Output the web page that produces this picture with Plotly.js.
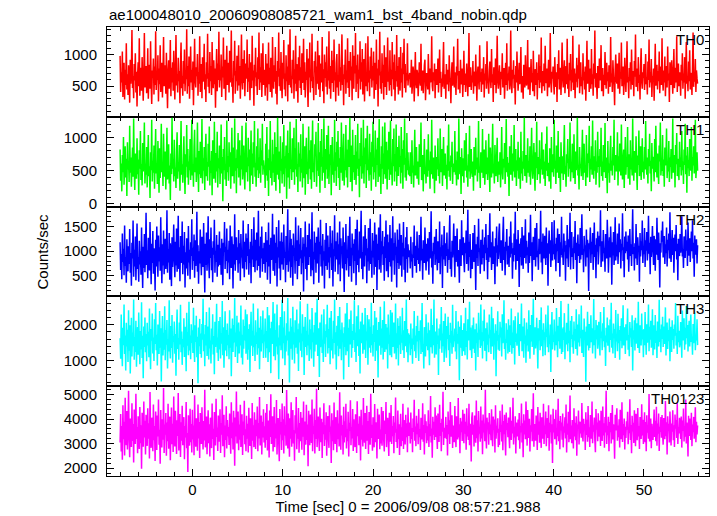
<!DOCTYPE html>
<html>
<head>
<meta charset="utf-8">
<script src="https://cdn.plot.ly/plotly-3.0.1.min.js"></script>
<style>html,body{margin:0;padding:0;background:#fff;}#chart{width:717px;height:516px;}</style>
</head>
<body>
<div id="chart"></div>
<script>
// Light-curve bins: start time and bin width (s)
const tStart = -8;
const binSize = 0.0625;

const TH0 = [
980,410,720,560,1050,330,640,870,290,760,520,1180,450,690,360,830,
610,240,920,540,780,1390,470,660,310,850,590,1020,400,730,180,670,
880,500,1260,350,620,790,430,960,560,270,710,1340,480,640,820,390,
550,1100,300,690,840,460,1210,580,220,750,630,940,370,810,520,1370,
440,700,600,990,260,780,530,1150,410,680,870,320,740,1280,500,610,
830,380,1030,570,150,720,910,460,650,1230,340,790,560,880,430,1060,
620,290,770,1310,510,690,400,950,580,740,230,860,1190,470,660,350,
900,540,1080,420,710,610,1400,380,820,500,970,300,680,1130,560,760,
440,890,200,730,1250,590,480,800,660,1010,350,720,540,1290,410,630,
850,310,960,570,760,1170,450,690,250,880,620,1330,490,710,390,1040,
580,820,360,1200,640,470,910,530,780,160,700,1090,420,860,600,1360,
480,750,590,1000,330,810,640,1270,460,680,920,280,770,1140,520,650,
870,400,1060,560,730,1380,490,620,240,900,670,1220,380,740,580,980,
430,690,1150,510,820,300,760,1320,600,450,930,550,1070,340,710,860,
620,1240,410,790,570,1010,280,680,880,470,1300,590,750,190,840,640,
1110,500,720,360,960,610,1350,440,800,560,1020,330,700,1180,520,760,
720,350,1010,480,860,270,640,1190,530,790,410,950,600,320,1280,690,
460,830,570,1120,380,740,210,900,650,1350,500,780,430,1040,560,310,
870,620,1230,450,700,340,990,580,810,260,1160,520,730,1400,480,660,
390,920,610,1070,300,770,540,1300,420,850,680,240,960,590,1140,470,
800,360,1020,550,690,1250,440,880,320,730,600,1090,510,170,940,640,
1190,400,760,580,1330,470,650,280,900,720,1050,360,810,540,1220,610,
450,990,330,700,860,560,1280,420,770,230,1000,630,880,490,1130,370,
740,590,1370,460,820,300,680,1060,550,910,410,1240,590,720,260,870,
1010,480,640,350,1170,570,800,430,950,1320,520,690,200,840,610,1080,
380,750,560,1260,470,900,330,720,1040,590,810,280,1150,640,460,980,
700,1340,410,830,540,1000,310,760,620,1210,450,880,570,1090,370,660,
930,260,790,1180,500,680,420,1290,560,750,340,970,620,1110,480,820,
590,1050,300,710,870,440,1240,530,780,180,920,670,1360,460,730,380,
1020,550,840,290,1150,620,490,960,360,800,1270,570,690,430,1070,520,
760,340,1200,610,880,450,1000,270,740,580,1310,490,820,370,960,650,
430,1120,560,780,320,1030,690,1250,470,850,400,710,590,1180,510,680,
650,710,480,590,920,380,540,810,700,260,630,1040,560,470,760,690,
340,580,880,620,510,1170,430,690,750,390,600,830,920,280,540,710,
600,450,1010,660,370,780,560,640,1290,500,420,720,590,860,310,680,
770,520,610,940,400,650,1080,550,730,330,620,490,810,1200,460,570,
690,300,850,610,530,760,420,990,640,570,230,700,880,510,640,1130,
480,720,590,360,810,670,1250,450,560,740,390,920,620,530,780,330,
640,1060,520,700,410,580,860,610,340,750,1340,490,620,800,440,670,
560,900,380,650,730,500,1000,590,270,690,810,620,450,1150,570,720,
410,780,640,530,960,320,700,590,850,460,1210,610,540,380,740,890,
620,470,1090,560,690,250,800,640,520,940,390,710,1300,580,460,650,
830,540,360,730,610,1020,480,660,790,300,600,870,520,1180,430,700,
590,810,450,640,1380,520,390,760,620,910,470,680,210,820,560,1050,
700,430,610,870,530,750,1120,400,660,590,300,840,720,480,990,620,
510,680,1230,450,570,800,360,640,930,560,710,420,1060,600,340,770,
650,520,880,290,710,600,1000,470,820,560,1270,390,630,740,500,860,
430,1140,610,550,780,340,690,920,480,640,1340,570,400,730,620,810,
550,370,960,660,490,720,250,850,610,1070,450,580,790,360,700,1190,
640,480,730,910,390,600,820,530,1250,460,690,330,870,590,1010,420,
760,560,1300,440,650,780,310,700,570,950,480,830,620,1160,390,610,
880,500,640,370,1020,590,730,450,810,270,680,1220,540,650,920,410,
600,780,460,1090,530,690,350,860,620,1380,480,710,560,300,820,650,
470,940,590,720,1150,420,610,790,340,680,520,1040,640,460,870,580,
720,380,830,610,490,1280,560,700,410,910,650,530,200,760,1000,590,
540,860,460,690,1030,380,720,620,1190,500,640,810,360,570,950,680,
410,720,1210,560,640,310,790,580,880,450,1080,620,520,740,340,900,
650,1320,490,600,780,420,960,550,680,290,810,1100,570,460,720,630,
850,440,700,1010,530,640,370,890,600,1240,480,720,560,930,330,660,
590,780,270,690,1170,510,620,840,450,740,580,1050,390,680,810,520,
1260,600,430,750,560,970,340,660,820,480,1130,590,700,250,880,640,
520,910,660,380,740,1090,470,610,790,560,1290,410,650,860,500,720,
630,350,840,590,1020,460,700,560,960,300,770,1200,540,620,420,890,
580,1070,450,710,640,360,820,1350,490,680,570,930,410,750,620,540
];
const TH1 = [
820,350,610,190,740,480,1010,290,560,870,400,680,120,930,520,640,
330,1180,470,700,260,590,850,410,1290,540,210,760,620,380,990,450,
670,140,810,530,1100,360,600,280,920,490,730,1230,310,580,440,860,
250,690,1040,420,570,90,780,510,1270,340,650,470,880,230,720,1130,
460,610,300,950,530,170,840,390,700,1210,480,620,270,1060,560,410,
790,220,640,1150,370,500,900,310,580,60,760,450,1300,530,680,340,
970,420,550,240,810,1080,380,630,490,890,200,720,1250,440,600,320,
680,1020,470,150,750,560,1190,400,830,290,640,510,980,360,710,1270,
430,590,260,870,1120,480,700,330,610,1230,520,180,800,450,940,390,
570,1280,310,690,500,860,210,740,1060,420,630,350,910,560,1170,280,
650,470,800,130,960,540,380,1240,600,320,770,490,1090,250,690,540,
880,300,620,1200,460,710,40,830,510,1010,370,590,270,1260,480,720,
350,930,560,780,230,660,1150,420,600,850,310,1290,500,690,160,820,
540,1070,400,640,960,280,730,520,1180,370,610,880,450,220,790,1230,
480,700,340,1000,570,820,190,650,1110,430,760,300,930,550,1250,410,
620,260,870,510,1140,390,700,460,990,320,810,580,1210,440,660,530,
580,240,910,430,1160,350,690,120,820,510,1250,390,640,280,970,470,
750,330,1080,560,200,860,440,1300,600,370,790,160,1020,500,680,310,
930,450,1190,260,720,540,880,80,650,1110,400,770,230,1240,530,620,
360,990,480,710,1150,290,840,520,1280,410,600,180,930,560,760,340,
1050,470,680,250,1210,590,390,870,140,740,1000,450,620,300,1170,530,
810,370,960,230,690,1260,480,580,330,900,720,1090,260,640,500,1220,
420,780,170,950,560,1130,350,700,470,1290,610,240,830,520,1040,380,
670,1180,300,750,590,890,130,710,1010,440,620,320,1270,500,780,270,
940,560,1100,390,690,210,860,470,1230,600,350,750,1060,280,640,510,
1190,400,820,250,970,560,700,1300,330,610,880,190,1120,480,740,360,
620,1040,290,790,530,1210,420,680,100,920,570,1150,380,720,460,1270,
310,850,600,990,240,700,1180,510,630,350,1060,440,780,200,940,560,
1240,370,690,480,1110,260,820,590,1000,330,730,1280,410,600,150,870,
530,1170,300,760,450,1230,380,650,940,220,810,520,1090,360,700,1260,
440,620,280,980,570,1140,340,750,490,1200,270,680,860,420,1030,560,
720,310,1160,470,830,230,960,590,1290,400,690,350,1070,510,780,440,
540,420,780,610,300,960,470,580,250,700,1120,430,520,860,380,640,
470,290,900,560,680,1230,360,510,740,190,620,980,450,550,310,820,
600,410,1050,500,660,230,790,450,1270,540,380,700,600,160,880,470,
350,710,520,990,420,600,310,1140,560,480,830,270,650,1010,430,560,
760,380,590,220,880,500,1200,410,640,350,730,560,940,300,610,480,
530,1100,440,660,280,790,520,370,1290,600,450,710,150,840,560,420,
690,320,960,500,610,1070,400,580,260,750,490,1180,380,620,830,470,
410,640,200,860,550,430,1000,520,700,340,610,1250,470,560,240,780,
580,470,1130,390,650,820,290,540,960,450,700,360,610,1060,500,180,
850,530,400,740,1210,460,590,310,890,570,420,700,1000,330,640,520,
440,780,250,620,1160,500,370,680,550,920,300,590,1280,480,710,410,
620,120,870,530,440,1040,610,350,760,490,1190,400,570,830,270,660,
500,940,380,700,580,230,1090,460,640,350,800,530,1300,420,610,740,
320,560,990,470,650,410,870,290,720,1150,540,380,610,920,470,200,
780,540,1240,360,600,710,450,960,310,680,520,1080,440,590,820,380,
640,270,910,500,1170,420,620,560,340,840,690,230,1010,480,750,560,
410,1270,530,650,300,880,470,600,1100,390,710,540,180,930,580,460,
720,360,820,1190,450,570,260,750,620,980,410,670,530,1230,340,600,
480,910,560,390,1050,620,300,790,510,680,1300,430,590,220,860,540,
600,420,740,1120,360,650,910,470,560,270,1040,580,400,760,620,1180,
330,680,520,870,440,1260,590,380,720,500,960,290,640,470,1090,560,
720,250,830,560,1150,420,640,350,890,600,480,1220,390,700,540,160,
950,470,610,320,780,1030,500,650,430,860,580,1270,360,620,740,490,
560,1080,280,720,490,910,610,430,1200,530,370,680,820,240,640,1010,
440,690,560,1160,380,610,750,290,960,520,640,430,1290,580,350,800,
620,470,1020,540,210,730,590,1110,420,680,870,360,560,990,480,640,
380,860,520,1250,600,440,700,310,830,570,1060,460,650,190,920,530,
710,560,340,980,480,1180,620,400,760,550,300,880,640,1230,430,590,
500,1040,420,670,260,850,580,710,1140,390,620,490,950,330,700,560,
830,380,610,1290,470,560,740,250,890,600,1070,420,680,520,360,940,
560,700,430,1100,510,640,300,820,590,1210,450,730,170,860,540,660,
420,980,600,500,1160,350,710,580,870,460,630,1270,390,560,780,500
];
const TH2 = [
1180,620,940,430,1360,780,1050,510,1520,700,880,360,1240,820,590,1100,
740,1450,560,960,300,1170,850,1620,480,1030,690,1300,410,920,1560,640,
880,380,1210,730,1000,520,1480,810,250,1090,660,1350,570,970,1780,720,
1020,450,1270,830,610,1590,940,330,1150,760,1410,540,1060,870,200,1230,
690,1500,920,480,1320,790,1080,600,1690,870,350,1140,710,1420,530,990,
1250,640,910,1830,560,1040,770,1370,420,1160,830,290,1280,680,1010,1540,
820,470,1190,710,1460,580,950,1720,640,1080,390,1310,760,890,1600,530,
1110,730,1390,260,980,650,1260,840,500,1510,770,1030,430,1180,900,1650,
620,1070,800,1340,460,1220,700,960,1800,580,1120,340,1000,750,1440,880,
510,1290,940,680,1570,820,160,1150,720,1380,600,1020,1710,790,450,1240,
860,1480,610,1070,370,1200,930,1640,560,1010,780,1330,480,1130,690,940,
1400,720,1060,520,1250,850,310,1170,980,1590,640,1090,800,1460,550,1030,
770,1210,430,1520,890,660,1300,1020,240,1140,730,1750,600,980,1280,820,
1080,560,1430,750,1160,400,1350,870,1010,650,1620,910,470,1190,780,1360,
630,1260,900,1550,520,1040,760,1190,350,1450,830,1110,680,1690,940,570,
1230,810,1380,610,970,1820,700,1100,460,1290,850,1500,580,1060,740,1170,
1050,560,1390,780,1220,420,960,1580,690,1130,340,1270,820,1010,1760,600,
940,1340,500,1170,760,1490,280,1080,870,1630,650,1200,410,1030,1380,730,
1190,620,1540,860,990,370,1310,720,1110,1850,580,1000,790,1430,460,1250,
680,1120,300,1360,910,1060,540,1690,800,1220,430,970,1520,700,1140,850,
1470,530,1020,760,1280,180,1150,890,1600,640,1080,410,1330,970,720,1560,
880,1240,490,1070,1790,610,990,330,1400,830,1170,560,1290,750,1050,1480,
360,1190,940,1640,690,1110,500,1350,810,1000,240,1230,700,1570,930,620,
1320,770,1080,450,1510,870,1160,620,1420,280,1040,900,1730,580,1200,830,
1010,1380,530,1140,730,1600,390,1260,960,1100,650,1480,820,170,1180,740,
1550,610,1030,860,1310,480,1210,1700,700,1070,380,1360,920,1150,550,1240,
800,1450,310,1090,1640,720,1020,570,1400,850,1190,1820,640,980,430,1300,
1130,690,1530,910,1250,350,1060,790,1470,600,1120,1660,740,1010,460,1370,
870,1210,520,1580,990,680,1340,210,1150,820,1480,630,1070,1750,560,1200,
940,1410,720,1100,400,1290,860,1620,590,1050,1340,470,1180,780,1530,690,
1260,380,1020,1710,810,1160,520,1380,930,1090,260,1440,760,1230,640,1560,
1000,710,1330,480,1170,890,1590,620,1060,370,1280,840,1490,560,1140,910,
880,1020,650,1290,790,930,460,1180,860,1520,700,980,1110,560,1400,820,
1060,740,1330,590,950,1700,810,1050,420,1220,890,760,1480,930,610,1150,
790,1260,980,520,1390,850,1100,1810,670,1000,340,1170,940,1290,720,1040,
1450,880,610,1200,1000,760,1600,530,1080,900,1340,250,1120,830,1510,970,
700,1160,900,1380,560,1040,820,1270,1730,640,990,480,1210,870,1100,1560,
920,470,1310,780,1090,1460,690,1020,860,360,1240,1010,700,1630,920,1150,
1280,810,570,1170,960,1420,740,1080,1840,600,1190,880,1350,450,1030,910,
640,1370,1050,780,1530,930,210,1140,860,1290,700,1660,990,1060,540,1230,
1000,730,1440,860,1130,590,1280,960,1550,820,1070,430,1330,780,1200,1770,
870,1180,620,1010,1400,740,1100,880,330,1260,970,1500,690,1120,840,1380,
1560,940,760,1220,1040,600,1340,1700,820,1090,510,1190,1010,1450,730,960,
1110,680,1300,870,1600,950,1170,440,1060,790,1360,920,1800,620,1240,1020,
800,1430,990,270,1150,880,1260,710,1490,1030,640,1320,860,1110,1650,750,
1210,920,1080,560,1380,760,1020,1740,900,1180,390,1050,1290,820,960,1470,
690,1130,1570,880,1010,620,1250,940,1100,1820,770,1190,530,1360,1000,850,
1310,1040,720,1480,860,1160,300,1070,1420,950,1220,680,1030,1590,810,1120,
940,1630,830,1150,590,1270,1000,1460,760,1090,1350,480,1180,920,1700,870,
1050,720,1360,990,1210,400,1120,850,1530,1010,680,1240,1080,1780,630,1150,
1390,880,1060,640,1290,960,1610,820,1170,350,1080,1340,900,1140,760,1470,
830,1200,1750,920,1040,570,1310,1000,1120,690,1440,870,1230,1050,190,1160,
1080,1480,760,1190,940,1370,620,1050,1580,880,1130,450,1260,990,1400,730,
970,1310,1100,1830,680,1010,1200,790,1430,960,1070,580,1350,1100,850,1640,
1210,560,1000,1280,870,1500,1060,320,1180,910,1390,720,1040,1690,810,1130,
890,1360,740,1110,1560,980,1240,650,1150,1020,1770,800,1080,470,1300,960,
1400,1000,1190,830,1320,580,1060,1450,900,1140,700,1230,1850,940,1080,610,
1160,850,1550,1030,720,1280,990,1110,380,1370,890,1200,1020,1620,760,1090,
940,1470,680,1220,1010,1390,810,1060,1720,950,1170,530,1290,880,1140,1510,
1030,720,1310,1090,600,1240,930,1680,1080,820,1380,1000,260,1160,970,1420,
1190,1600,870,1050,1310,740,1140,960,1480,690,1230,1020,1360,850,1790,1000,
780,1120,1430,920,1270,560,1080,1340,1000,1530,830,1150,410,1250,1060,900,
1350,970,1180,1710,890,1040,660,1300,1100,860,1440,1010,1220,700,1580,1070,
910,1260,780,1090,1400,1000,1630,850,1170,480,1320,930,1080,1240,750,1120
];
const TH3 = [
1620,1050,2280,1340,840,1910,1430,2560,1180,1700,720,2050,1390,1860,960,2400,
1270,1980,640,1530,2190,1110,1780,1400,2700,1020,1650,1240,2110,830,1570,1930,
1160,2340,1480,900,1820,1310,2620,1070,1690,510,1950,1380,2200,1230,1740,980,
2050,1420,1800,1090,2450,1330,760,1880,1550,2310,1200,1640,990,2150,1460,2600,
1290,1720,860,2000,1520,1180,2380,1360,1900,420,1610,2240,1140,1770,1300,2510,
1010,1850,1440,2130,780,1590,1250,2680,1470,1060,1960,1350,2270,940,1680,1520,
2090,1190,1740,580,1870,2420,1320,1630,1020,2060,1450,2550,1230,1810,880,1600,
1370,2180,1100,1940,1560,700,2330,1410,1790,1150,2640,1280,1700,1040,2010,1490,
1840,1210,2470,1350,960,1980,1520,2250,1090,1660,370,1920,1400,2160,1180,1750,
1080,2020,1580,2720,1260,1730,840,1990,1420,2350,1130,1620,1950,1030,2480,1340,
1560,920,1890,1450,2290,1170,1680,620,2080,1380,1800,2580,1220,1640,990,2100,
1310,2210,1060,1760,1470,2660,1150,1930,800,1590,2370,1280,1850,1120,2030,1430,
1710,1040,2400,1360,1890,560,1620,2170,1240,1990,1500,2740,1100,1780,1390,2250,
930,1670,2060,1200,1810,1420,2530,1080,1720,890,2140,1330,1960,1560,2420,1190,
1640,2290,1020,1880,1300,2010,680,1750,2360,1410,1830,1130,2590,1370,1700,990,
2120,1460,1790,1160,2450,1340,1910,760,1600,2230,1250,1860,1480,2390,1070,1720,
1530,2170,1080,1820,1340,2490,960,1690,2260,1230,1900,650,2080,1460,1770,2630,
1120,1580,2310,1010,1850,1390,2560,1170,1640,480,1980,1420,2210,1290,1730,2690,
1060,1920,1480,2370,870,1700,1250,2040,1560,2740,1140,1810,390,1660,2180,1330,
1940,1020,2500,1450,1780,920,2120,1360,1610,2420,1190,1870,710,2030,1500,2650,
1270,1750,1090,2290,1540,1940,600,1680,2210,1380,1830,1150,2580,1420,1720,990,
2140,1310,1870,1060,2460,1510,1780,830,1990,1250,2340,1440,1690,2720,1130,1620,
1900,540,2060,1370,1740,2280,1210,1580,960,2430,1470,1820,1100,2010,1650,2550,
1200,1880,1350,2190,900,1710,2380,1280,1600,1060,2110,1490,2700,1170,1790,750,
1970,1410,2240,1120,1680,2490,1330,1860,1010,2060,1540,1760,470,1930,1380,2310,
1150,1640,2600,1260,1910,820,2150,1450,1710,2390,1080,1820,1350,2020,1570,2680,
1240,1780,960,2230,1400,1690,2540,1130,1870,640,2090,1480,1750,2330,1190,1620,
2000,1300,2460,1070,1810,1560,2270,880,1700,2150,1360,1940,1220,2610,1430,1740,
1110,1980,1520,2380,990,1660,2200,1270,1850,530,2070,1410,1730,2500,1160,1890,
1360,2130,1030,1790,2650,1240,1580,2020,1310,1920,780,2280,1470,1700,1150,2410,
1630,1090,2340,1380,1820,2060,1200,1550,2590,1040,1760,1350,2180,860,1960,1440,
2230,1180,1710,1500,2470,1290,1840,1070,2100,1400,1650,2700,1230,1880,950,1760,
1480,1720,1150,2030,1320,1610,910,1890,1440,2380,1260,1700,1070,1960,1530,2250,
1350,990,1820,1570,2120,1180,1690,2600,1240,1460,780,1930,1620,1110,2290,1400,
1760,1290,2060,1520,870,1840,1370,2440,1650,1200,1990,1430,2700,1080,1580,1810,
1170,2170,1460,1700,600,1890,1330,2010,1560,2490,1220,1750,1400,2100,960,1640,
2310,1430,1080,1960,1600,2220,1290,1710,850,2050,1500,1830,1190,2550,1370,1680,
1540,1890,1250,2380,1040,1740,1470,2090,1630,450,1940,1360,2260,1520,1130,1850,
1260,2040,1590,1150,2470,1380,1820,1030,2150,1560,1710,2640,1290,1920,1450,1070,
1980,1330,2200,1620,1210,1870,720,2030,1490,1770,1100,2330,1580,1860,1350,2560,
1410,1790,1060,2110,1540,2420,1270,1690,1900,980,2060,1440,1720,1230,2280,1620,
1850,1180,2500,1390,1630,2180,1020,1760,1450,2010,560,1830,1550,2370,1300,1710,
1270,2080,1640,1920,1110,2290,1480,1750,2680,1320,1600,1020,2040,1490,1860,1200,
2150,1560,1240,1980,1430,2450,1190,1780,1350,2120,1660,890,2230,1520,1750,1410,
1690,2340,1370,1130,2020,1540,1830,2590,1260,1620,1950,1080,2180,1470,1700,940,
2060,1420,1870,1250,2400,1610,1050,1990,1530,2270,1380,1800,2720,1160,1670,1930,
1340,1610,2190,1470,780,1900,1560,2130,1290,1740,2480,1400,1860,1120,2040,1580,
1790,1150,2280,1660,1880,1370,2530,1230,1700,1460,2000,680,1820,2350,1310,1640,
1520,2140,1280,1810,1430,2460,1610,1090,1970,1540,2210,1330,1760,2660,1180,1890,
1240,1930,1570,2320,1040,1780,1450,2050,1690,1260,2580,1480,1830,950,2110,1600,
2240,1370,1720,1190,2090,1550,1880,1320,2430,1640,1140,2000,1500,2290,1390,1750,
1620,2530,1210,1860,1480,1100,2170,1590,1800,410,1950,1420,2360,1680,1280,2020,
1350,1770,2260,1510,1900,1200,1650,2710,1430,1840,1060,2130,1590,1980,1330,1720,
2080,1460,1140,2350,1620,1810,1290,2040,1540,2490,1370,1700,850,1910,1500,2200,
1410,1980,1660,1230,2140,1570,2610,1360,1750,1200,2030,1620,1880,1070,2410,1530,
1690,1260,2300,1480,1850,1020,1960,1550,2180,1340,1790,2540,1420,1660,1930,1180,
2010,1560,1820,2450,1300,1710,1120,2070,1640,1900,1380,2260,720,1840,1590,2120,
1280,2190,1470,1730,2040,1350,2640,1540,1210,1980,1670,1420,2310,1590,1860,1090,
1880,1430,2350,1620,1160,2010,1500,1790,2560,1260,1940,1580,2110,1360,1700,2430,
1150,1740,1980,1310,2270,1490,1830,1070,2090,1640,1390,2690,1520,1870,1230,2000,
1600,2220,1380,1950,1460,1790,2480,1140,1710,2060,1320,1850,1540,2170,980,1680,
1940,1240,2120,1570,1880,1330,2000,1690,2600,1420,1760,1180,2250,1510,1830,1370,
1470,2070,1690,1080,2390,1560,1740,2180,1300,1910,1450,2520,1620,1990,1250,1790,
2110,1390,1810,2280,1520,1670,1160,2020,1480,1860,2340,1290,1720,1560,2150,1430
];
const TH0123 = [
3050,4210,2680,3720,2350,4560,3180,3890,2520,4870,3360,2940,4330,2760,3610,5150,
3280,2450,4020,3540,2870,4650,3110,3800,2230,4390,3470,2990,5030,3190,3680,2610,
4120,3340,2780,4490,3020,3750,1980,4260,3410,2880,4720,3250,3930,2560,4180,3560,
2910,4440,3200,3830,2400,5100,3380,2830,4060,3510,2690,4590,3140,3720,2300,4310,
3620,2740,4150,3290,4800,2960,3570,2180,4370,3440,2850,3990,3160,5270,2620,3780,
3370,4250,2510,3860,3100,4620,2790,3680,4100,2330,3520,4470,2980,3810,2660,4920,
3230,2890,4340,3460,2580,3950,3310,5060,2720,3640,4210,2460,3870,3120,4540,2940,
3590,4080,2370,3720,3250,4700,2810,3430,1850,4160,3580,2920,4420,3060,3800,2640,
4380,3170,3740,2530,4970,3340,2880,4030,3490,2710,4590,3210,3880,2420,4250,3660,
2990,4480,3350,2760,3920,3130,5200,2850,3700,4110,2570,3540,4360,3020,3790,2480,
4060,3400,2820,4640,3190,3610,2340,4290,3480,2930,4830,3270,3660,2700,4150,3520,
3080,4400,2620,3830,3360,4970,2900,3570,4180,2450,3740,3150,4520,2800,3960,3300,
3680,2950,4230,3410,2590,4690,3220,3860,2760,4340,3530,2100,4070,3290,5120,3010,
3450,4310,2730,3780,3160,4580,2870,3630,4200,2540,3900,3340,4750,2980,3590,2690,
4140,3200,3810,2640,4460,3390,2910,4030,3550,2380,4660,3120,3750,2860,4280,3470,
2780,3970,3300,4510,2690,3840,3210,4900,2930,3600,4150,2560,3890,3250,4400,3050,
3710,2830,4260,3150,4610,2720,3580,3940,2440,4350,3270,5010,2990,3690,4120,2680,
3450,4490,2860,3820,3210,4780,2560,3630,4040,3060,2290,4410,3370,3880,2740,4640,
3140,3990,2600,4520,3330,3760,2920,5180,3480,2800,4230,3590,2470,4030,3200,4690,
2880,3730,4370,3010,3550,2310,4160,3420,4900,2770,3650,3200,4450,2630,3840,3100,
4290,3530,2750,4060,3280,4720,2530,3900,3360,2960,4580,3150,3780,2080,4340,3470,
2940,4190,3580,3030,4800,2690,3720,3400,4420,2600,3960,3190,5240,2860,3610,4110,
3320,2700,4470,3540,3060,4010,2420,3870,3380,4650,2910,3750,3160,4280,2510,3640,
4130,3250,2830,4560,3490,3700,2210,4240,3100,3950,2730,4680,3410,2990,4080,3560,
2650,4360,3180,3820,2890,5090,3440,2750,4150,3330,3760,2560,4500,3050,3910,3260,
4620,2800,3600,3100,4300,2480,3850,3520,4770,2940,3670,3210,4410,2700,3990,3370,
2860,4200,3460,2620,4730,3300,3810,2940,4120,3580,2320,4380,3160,3750,2890,4860,
3500,3040,4250,2780,3680,4540,3120,3920,2580,4290,3390,2960,5030,3230,3770,2710,
4080,3350,2850,4610,3060,3870,3480,2400,4420,3190,3700,4190,2770,3580,3010,4490,
2920,3780,4330,3140,2680,3940,3400,4700,2860,3640,4050,3230,2500,4260,3530,3080,
4570,2990,3720,3300,4130,2610,3860,3450,4880,3070,3590,2820,4350,3180,3790,2540,
3380,4220,2900,3670,3110,4630,2780,3960,3520,2970,4180,3260,3830,2650,4470,3340,
3350,3860,3010,4270,3190,3640,2650,4020,3480,4790,3120,3700,2900,4140,3390,3820,
2980,4410,3260,3590,2740,4060,3530,3170,4650,3080,3760,2560,4200,3440,3910,3020,
3710,3130,4360,2870,3800,3300,4940,3050,3620,2430,4100,3360,3890,3150,4480,3270,
4150,3400,2780,4230,3560,3070,4580,3310,3840,2690,4010,3490,5110,2950,3650,3230,
3520,4090,3190,3760,2520,4310,3380,3950,2990,4700,3280,3600,4160,2820,3740,3420,
3060,4530,3340,2860,4120,3570,3170,4860,3250,3790,2610,4050,3470,3900,3110,4380,
3630,3020,4220,3410,3890,2750,4440,3290,3720,3150,4620,2940,3810,3500,2270,4070,
4280,3360,3770,2890,4150,3530,3040,4760,3220,3950,2680,4330,3410,3680,3080,4510,
3210,3940,2570,4190,3460,3820,3100,5200,3330,2800,4060,3590,3870,2960,4250,3390,
3780,3140,4400,3280,2900,4110,3570,3980,2640,4560,3200,3730,3450,4030,2860,3610,
2950,4340,3480,3760,3090,4590,2730,3920,3380,4180,3130,2520,4270,3560,3840,3260,
4060,3320,2810,4480,3620,3150,3930,3420,4870,2970,3690,3250,4120,2600,3860,3510,
3300,3980,3140,4250,2790,3710,3460,4640,3050,3830,2450,4200,3370,3940,3180,4720,
3870,2920,4370,3560,3230,4010,2680,3750,3490,4410,3100,3660,5050,2880,3800,3330,
3120,4150,3590,2740,4490,3360,3900,3040,4260,3520,2830,4080,3620,3200,4630,2990,
3740,3390,4310,2900,3680,4040,3230,4560,2710,3850,3470,4190,3010,3790,2210,4420,
3460,4000,3180,3750,4380,2960,3610,3300,4830,3100,3920,2770,4130,3540,3860,3160,
4230,2850,3700,3450,4070,3210,4590,2640,3820,3370,4300,3060,3630,4960,3180,3740,
3020,3960,3510,2800,4440,3290,3850,3140,4120,2510,3780,3600,4350,2970,3900,3420,
3890,3240,4660,3400,3090,4010,3550,3800,2740,4280,3350,3970,3080,4530,3260,3670,
2870,4170,3640,3200,4720,3020,3750,3490,4060,3150,2650,4410,3570,3860,3100,4240,
3600,3280,3940,2910,4340,3700,3110,4510,3330,3830,2830,4090,3460,5150,2990,3710,
3350,4100,2690,3880,3470,4250,3010,3620,4570,3170,3790,3390,2390,4180,3540,3960,
4440,3120,3740,3260,3990,2840,4380,3560,3180,4690,3070,3800,3340,4020,2760,3690,
3230,3910,3570,4300,2980,3670,3430,4810,3150,3760,2610,4140,3500,3850,3030,4360,
3800,2900,4220,3480,3140,4450,3290,3720,2780,4090,3610,3190,4600,3330,3970,2990,
3520,4280,3060,3880,2690,4160,3450,3760,3200,5020,3090,3640,4020,2810,3810,3380,
3150,3710,4390,3270,3930,3100,4500,2920,3820,3410,4230,2700,3690,3480,4080,3240,
4170,3360,2960,4040,3590,3180,4740,3300,3870,2560,4120,3520,3810,3050,4310,3630,
2930,3820,3490,4360,3140,3750,2870,4190,3610,3960,3230,4650,2990,3680,3420,4050,
3700,3190,4110,2840,3940,3520,4430,3090,3710,3280,4800,3010,3860,3460,2480,4140,
3310,4020,3600,3150,4260,2900,3780,3470,4090,3200,3650,4480,3060,3890,3380,3740
];

const bandNames = ["TH0", "TH1", "TH2", "TH3", "TH0123"];
const bandColors = ["#ff0000", "#00ff00", "#0000ff", "#00ffff", "#ff00ff"];
const bandRanges = [[16, 1437], [-40, 1315], [81, 1905], [286, 2786], [1684, 5340]];
const bandMajor = [500, 500, 500, 1000, 1000];
const bandMinor = [100, 100, 100, 200, 200];
const chartTitle = "ae100048010_20060908085721_wam1_bst_4band_nobin.qdp";
const xTitle = "Time [sec] 0 = 2006/09/08 08:57:21.988";
const yTitle = "Counts/sec";

const series = [TH0, TH1, TH2, TH3, TH0123];
const time = TH0.map((_, i) => tStart + i * binSize);

const FONT = "Liberation Sans, Arial, Helvetica, sans-serif";
const n = series.length;
const traces = [];
const layout = {
  width: 717, height: 516,
  margin: {l: 107, r: 8, t: 27, b: 40},
  paper_bgcolor: "#fff", plot_bgcolor: "#fff",
  showlegend: false,
  font: {family: FONT, size: 15, color: "#000"},
  annotations: []
};

for (let k = 0; k < n; k++) {
  const idx = k === 0 ? "" : String(k + 1);
  traces.push({
    x: time, y: series[k], type: "scatter", mode: "lines",
    line: {color: bandColors[k], width: 1.5, simplify: false},
    xaxis: "x" + idx, yaxis: "y" + idx, hoverinfo: "skip"
  });
  const top = 1 - k / n, bot = 1 - (k + 1) / n;
  layout["xaxis" + idx] = {
    domain: [0, 1], anchor: "y" + idx,
    range: [-9.45, 57.2], dtick: 10, tick0: 0,
    ticks: "inside", ticklen: 7, tickwidth: 1, tickcolor: "#000",
    minor: {dtick: 2, ticks: "inside", ticklen: 4, tickwidth: 1, tickcolor: "#000"},
    showline: true, linecolor: "#000", linewidth: 1, mirror: "allticks",
    showgrid: false, zeroline: false,
    showticklabels: k === n - 1,
    tickfont: {family: FONT, size: 15, color: "#000"},
    fixedrange: true
  };
  if (k > 0) layout["xaxis" + idx].matches = "x";
  if (k === n - 1) {
    layout["xaxis" + idx].title = {text: xTitle, font: {family: FONT, size: 15, color: "#000"}, standoff: 4};
  }
  layout["yaxis" + idx] = {
    domain: [bot, top], anchor: "x" + idx,
    range: bandRanges[k], dtick: bandMajor[k], tick0: 0,
    ticks: "inside", ticklen: 7, tickwidth: 1, tickcolor: "#000",
    minor: {dtick: bandMinor[k], ticks: "inside", ticklen: 4, tickwidth: 1, tickcolor: "#000"},
    showline: true, linecolor: "#000", linewidth: 1, mirror: "allticks",
    showgrid: false, zeroline: false,
    tickfont: {family: FONT, size: 15, color: "#000"},
    ticklabelstandoff: 6,
    fixedrange: true
  };
  layout.annotations.push({
    text: bandNames[k], xref: "paper", yref: "paper",
    x: 1, y: top, xanchor: "right", yanchor: "top",
    xshift: -3, yshift: -2, showarrow: false,
    font: {family: FONT, size: 15, color: "#000"}
  });
}

layout.annotations.push({
  text: chartTitle, xref: "paper", yref: "paper",
  x: 0, y: 1, xanchor: "left", yanchor: "bottom", yshift: 2,
  showarrow: false, font: {family: FONT, size: 15, color: "#000"}
});
layout.annotations.push({
  text: yTitle, xref: "paper", yref: "paper",
  x: 0, y: 0.5, xanchor: "center", yanchor: "middle", xshift: -65,
  textangle: -90, showarrow: false, font: {family: FONT, size: 15, color: "#000"}
});

Plotly.newPlot("chart", traces, layout, {staticPlot: true, displayModeBar: false});
</script>
</body>
</html>
